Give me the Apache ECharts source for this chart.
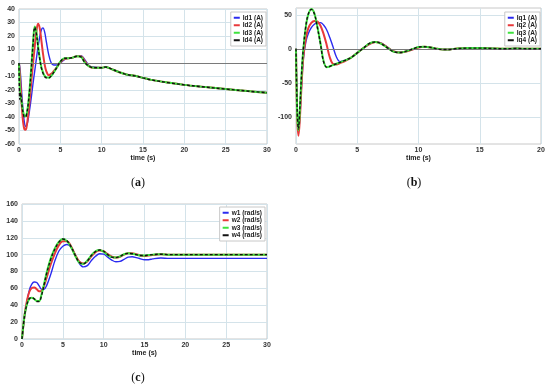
<!DOCTYPE html>
<html><head><meta charset="utf-8">
<script src="https://cdn.jsdelivr.net/npm/echarts@6/dist/echarts.min.js"></script>
<style>html,body{margin:0;padding:0;background:#fff}#c{width:550px;height:385px}</style>
</head><body><div id="c"></div>
<script>
// ---- Panel (a): Id currents ----
const tA = [0,0.1,0.2,0.35,0.5,0.65,0.8,0.95,1.1,1.3,1.5,1.7,1.9,2.1,2.3,2.5,2.7,2.9,3.1,3.3,3.6,3.9,4.2,4.6,5,5.5,6,6.5,7,7.5,8,8.5,9,10,10.5,11,12,13,14,15,16,18,20,22,25,28,30];
const id1 = [0,-3,-10,-24,-36,-44,-47,-46,-42,-34,-25,-15,-6,3,12,19,24.5,26,23,16,6,0,-1.5,-1.5,0,2.5,3.5,4,5,5.5,2,-2,-3,-3.5,-3,-4,-6.5,-8.5,-9.5,-11,-12.5,-14.5,-16.2,-17.5,-19.3,-21,-22];
const id2 = [0,-8,-18,-33,-44,-49,-49.5,-46,-39,-27,-13,0,12,23,29,26,17,7,-1,-6,-9,-8,-6,-3,0.5,3,3.5,4,5,5,1,-2.5,-3.5,-3.5,-3,-4,-6.5,-8.5,-9.5,-11,-12.5,-14.5,-16.2,-17.5,-19.3,-21,-22];
const id3 = [0,-18,-25,-30,-36,-39,-39.5,-37,-31,-18,-2,15,27,23,13,4,-3,-7,-9.5,-10.5,-11,-9.5,-7,-3,1,3.5,3.5,4,5,4.5,0,-2.5,-3.5,-3.5,-3,-4,-6.5,-8.5,-9.5,-11,-12.5,-14.5,-16.2,-17.5,-19.3,-21,-22];
const id4 = [0,-27,-22,-31,-37,-40,-40,-37,-31,-19,-3,14,26.5,22,12,3.5,-3.5,-7.5,-10,-11,-11,-9.5,-7,-3,1,3.5,3.5,4,5,4.5,0,-2.5,-3.5,-3.5,-3,-4,-6.5,-8.5,-9.5,-11,-12.5,-14.5,-16.2,-17.5,-19.3,-21,-22];
const namesA = ['Id1 (A)','Id2 (A)','Id3 (A)','Id4 (A)'];

// ---- Panel (b): Iq currents ----
const tB = [0,0.1,0.2,0.3,0.45,0.6,0.8,1.0,1.25,1.5,1.75,2.0,2.25,2.5,2.75,3.0,3.3,3.6,4.0,4.5,5.0,5.5,6.0,6.5,7.0,7.5,8.0,8.5,9.0,9.5,10.0,10.5,11.0,11.5,12.0,12.5,13.0,14.0,15.0,16.0,17.0,18.0,19.0,20.0];
const iq1 = [0,-85,-122,-105,-55,-15,10,22,31,36,38.5,38.5,35,28,17,4,-12,-19,-17,-13,-6,1,7,10,8,2,-4,-5.5,-4,-1,2,3,2,0,-1,-1,0,1,1,0.5,0,0.5,0,0];
const iq2 = [0,-100,-128,-108,-55,-12,15,30,38,41,40,34,22,6,-12,-22,-23,-21,-18,-13,-6,1,7,10,7.5,1.5,-4,-5.5,-4,-1,2,3,2,0,-1,-1,0,1,1,0.5,0,0.5,0,0];
const iq3 = [0,-95,-120,-95,-40,0,32,50,58.5,52,32,8,-18,-27,-26,-24,-22,-20,-17,-13,-6,1,8,10,7,1,-4.5,-5.5,-3.5,-0.5,2.5,3,2,0,-1,-1,0,1,1,0.5,0,0.5,0,0];
const iq4 = [0,-92,-118,-93,-38,1,33,51,58,51.5,31,7,-19,-27,-26,-24,-22,-20,-17,-13,-6,1,8,10,7,1,-4.5,-5.5,-3.5,-0.5,2.5,3,2,0,-1,-1,0,1,1,0.5,0,0.5,0,0];
const namesB = ['Iq1 (A)','Iq2 (A)','Iq3 (A)','Iq4 (A)'];

// ---- Panel (c): speeds ----
const tC = [0,0.3,0.6,0.9,1.2,1.5,1.8,2.1,2.4,2.7,3.0,3.5,4.0,4.5,5.0,5.5,6.0,6.5,7.0,7.5,8.0,8.5,9.0,9.5,10.0,10.5,11.0,11.5,12.0,12.5,13.0,13.5,14.0,14.5,15.0,15.5,16.0,17.0,18.0,19.0,20.0,22.0,24.0,26.0,28.0,30.0];
const w1 = [0,25,44,58,65,67.5,67,63,59,59,63,76,92,104,110,112,109,100,90,85.5,87,93,98,101,100.5,97,93.5,91.5,92,94.5,97,97.5,96.5,95,94,94,95,96,95.5,95.5,95.5,95.5,95.5,95.5,95.5,95.5];
const w2 = [0,27,45,56,60.5,61,59,56.5,57,63,72,88,101,111,116,116,110,100,92,89.5,92,98,103,105,104,100.5,97.5,96.5,97.5,100,101.5,101.5,100.5,99,98.5,99,99.5,100.5,100,100,100,100,100,100,100,100];
const w3 = [0,27,41,47.5,49,47.5,45,45,53,65,78,95,107,115,118.5,116,109,99,90.5,89,93,99.5,104,105.5,103.5,99.5,97,96.5,98,100.5,101.5,101,100,99,99,99.5,100,100.5,100,100,100,100,100,100,100,100];
const w4 = [0,27,41,48,49,47.5,44.5,44.5,52,64,77,94,106,114.5,118.5,116.5,109.5,99.5,91,89,92.5,99,103.5,105.5,104,100,97,96.5,98,100.5,101.5,101,100,99,99,99.5,100,100.5,100,100,100,100,100,100,100,100];
const namesC = ['w1 (rad/s)','w2 (rad/s)','w3 (rad/s)','w4 (rad/s)'];

const xTicksA = {min:0,max:30,interval:5};
const xTicksB = {min:0,max:20,interval:5};
const yTicksA = {min:-60,max:40,interval:10};
const yTicksB = {min:-140,max:60,labels:[-100,-50,0,50]};
const yTicksC = {min:0,max:160,interval:20};

const colors = ['#2b2bf0','#e8383a','#3ee23e','#111111'];
const gridColor = '#d4e3ea';
const lblFont = {fontSize:7,color:'#333',fontWeight:'bold',fontFamily:'Liberation Sans'};

function pairs(t,v){return t.map((x,i)=>[x,v[i]]);}

function mkX(idx,tk){
  return {gridIndex:idx,type:'value',min:tk.min,max:tk.max,interval:tk.interval,
    name:'time (s)',nameLocation:'middle',nameGap:10,
    nameTextStyle:{fontSize:7,fontWeight:'bold',color:'#222',fontFamily:'Liberation Sans'},
    axisLine:{show:false},axisTick:{show:false},
    axisLabel:Object.assign({margin:3},lblFont),
    splitLine:{show:true,lineStyle:{color:gridColor,width:1}}};
}
function mkY(idx,tk){
  const o={gridIndex:idx,type:'value',min:tk.min,max:tk.max,
    axisLine:{show:false},
    axisLabel:Object.assign({margin:4},lblFont),
    splitLine:{show:true,lineStyle:{color:gridColor,width:1}}};
  if(tk.labels){
    o.axisTick={show:false,customValues:tk.labels};
    o.axisLabel.customValues=tk.labels;
  } else { o.interval=tk.interval; o.axisTick={show:false}; }
  return o;
}
function mkSeries(idx,t,vals,names,zero){
  return vals.map((v,i)=>{
    const s={type:'line',name:names[i],xAxisIndex:idx,yAxisIndex:idx,data:pairs(t,v),
      smooth:0.35,showSymbol:false,symbol:'none',
      lineStyle:{color:colors[i],width:(i===1||i===2)?2:1.4,type:i===3?[3,2]:'solid'},
      itemStyle:{color:colors[i]},z:2+i};
    if(zero && i===0){
      s.markLine={silent:true,symbol:'none',label:{show:false},animation:false,
        lineStyle:{color:'#7a7a7a',width:1,type:'solid'},data:[{yAxis:0}]};
    }
    return s;
  });
}
function mkLegend(names,right,top){
  return {data:names,orient:'vertical',right:right,top:top,
    backgroundColor:'#fff',borderColor:'#c8c8c8',borderWidth:1,borderRadius:0,
    padding:[2,3,2,3],itemGap:0,itemWidth:6,itemHeight:2,icon:'rect',
    textStyle:{fontSize:6.5,fontWeight:'bold',color:'#222',fontFamily:'Liberation Sans',lineHeight:7.5,padding:[0,0,0,-2]}};
}
function mkCaption(letter,x,y){
  return {text:'({b|'+letter+'})',left:x,top:y,textAlign:'center',padding:0,
    textStyle:{fontSize:12,fontWeight:'normal',fontFamily:'Liberation Serif',color:'#111',
      rich:{b:{fontSize:12,fontWeight:'bold',fontFamily:'Liberation Serif',color:'#111'}}}};
}

const chart = echarts.init(document.getElementById('c'),null,{renderer:'canvas'});
chart.setOption({
  animation:false,
  backgroundColor:'#fff',
  grid:[
    {left:19,top:9,width:248,height:135,show:true,borderColor:'#c8c8c8',borderWidth:1,backgroundColor:'transparent'},
    {left:296,top:8,width:245,height:136,show:true,borderColor:'#c8c8c8',borderWidth:1,backgroundColor:'transparent'},
    {left:22,top:204,width:245,height:135,show:true,borderColor:'#c8c8c8',borderWidth:1,backgroundColor:'transparent'}
  ],
  xAxis:[mkX(0,xTicksA),mkX(1,xTicksB),mkX(2,xTicksA)],
  yAxis:[mkY(0,yTicksA),mkY(1,yTicksB),mkY(2,yTicksC)],
  legend:[mkLegend(namesA,284,12),mkLegend(namesB,10,12),mkLegend(namesC,285,207)],
  title:[mkCaption('a',138,177),mkCaption('b',414,177),mkCaption('c',138,372)],
  series:[].concat(
    mkSeries(0,tA,[id1,id2,id3,id4],namesA,true),
    mkSeries(1,tB,[iq1,iq2,iq3,iq4],namesB,true),
    mkSeries(2,tC,[w1,w2,w3,w4],namesC,false)
  )
});
</script></body></html>
